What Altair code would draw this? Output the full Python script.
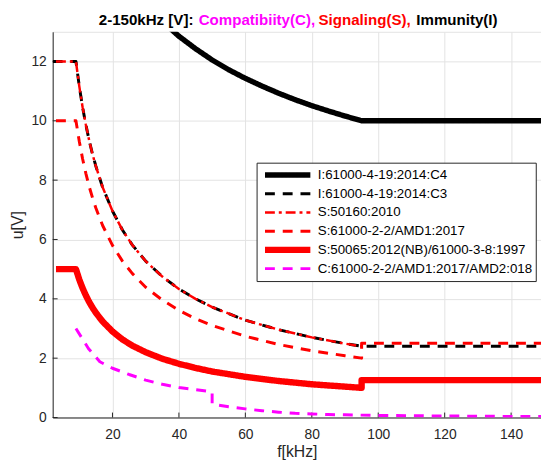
import altair as alt
import pandas as pd

FONT = "Liberation Sans"

# ---------------- data ----------------
SERIES = [
    "I:61000-4-19:2014:C4",
    "I:61000-4-19:2014:C3",
    "S:50160:2010",
    "S:61000-2-2/AMD1:2017",
    "S:50065:2012(NB)/61000-3-8:1997",
    "C:61000-2-2/AMD1:2017/AMD2:018",
]
COLORS = ["#000000", "#000000", "#ff0000", "#ff0000", "#ff0000", "#ff00ff"]
DASHES = [[1, 0], [10, 8], [10, 4, 3, 4], [10, 8], [1, 0], [10, 8]]
WIDTHS = [5.5, 3.0, 2.5, 3.0, 6.5, 3.0]

f_c4 = [35, 40, 45, 50, 55, 60, 65, 70, 75, 80, 85, 90, 95, 150]
u_c4 = [13.35, 12.85, 12.43, 12.05, 11.72, 11.43, 11.17, 10.93, 10.71, 10.51, 10.33, 10.16, 10.0, 10.0]

f_c3 = [2, 9, 10, 11, 12, 13, 14, 15, 17, 20, 23, 26, 30, 35, 40, 45, 50, 60, 70, 80, 90, 95, 150]
u_c3 = [12, 12, 11.17, 10.46, 9.86, 9.33, 8.87, 8.47, 7.77, 6.96, 6.32, 5.81, 5.27, 4.75, 4.33, 4.00,
        3.72, 3.28, 2.96, 2.70, 2.49, 2.40, 2.40]

f_50160 = [3, 9, 10, 11, 12, 13, 14, 15, 17, 20, 23, 26, 30, 35, 40, 45, 50, 60, 70, 80, 90, 95]
u_50160 = [12, 12, 11.17, 10.46, 9.86, 9.33, 8.87, 8.47, 7.77, 6.96, 6.32, 5.81, 5.27, 4.75, 4.33, 4.00,
           3.72, 3.28, 2.96, 2.70, 2.49, 2.40]

f_amd1 = [3, 9, 10, 11, 12, 13, 14, 15, 17, 20, 23, 26, 30, 35, 40, 45, 50, 60, 70, 80, 90, 95, 95, 150]
u_amd1 = [10, 10, 9.31, 8.72, 8.22, 7.78, 7.40, 7.06, 6.48, 5.80, 5.27, 4.85, 4.39, 3.96, 3.61, 3.33,
          3.10, 2.74, 2.46, 2.25, 2.08, 2.00, 2.50, 2.50]

f_50065 = [3, 9, 10, 11, 12, 13, 14, 15, 17, 20, 23, 26, 30, 35, 40, 45, 50, 60, 70, 80, 90, 95, 95, 150]
u_50065 = [5, 5, 4.65, 4.36, 4.11, 3.89, 3.70, 3.53, 3.24, 2.90, 2.63, 2.42, 2.20, 1.98, 1.81, 1.67,
           1.55, 1.37, 1.23, 1.12, 1.04, 1.00, 1.26, 1.26]

f_comp = [9, 12.8, 16.2, 20, 25, 30, 35, 40, 45, 50, 50, 55, 60, 65, 70, 75, 80, 85, 90, 95, 100, 120, 150]
u_comp = [3.0, 2.32, 1.88, 1.66, 1.45, 1.26, 1.12, 1.01, 0.94, 0.87, 0.45, 0.36, 0.29, 0.23, 0.18,
          0.14, 0.12, 0.10, 0.09, 0.08, 0.07, 0.05, 0.03]

X_TICKS = [20, 40, 60, 80, 100, 120, 140]
Y_TICKS = [0, 2, 4, 6, 8, 10, 12]

TITLE_PARTS = ["2-150kHz [V]:", "Compatibiity(C),", "Signaling(S),", "Immunity(I)"]
TITLE_COLORS = ["#000000", "#ff00ff", "#ff0000", "#000000"]
TITLE_X = [46.7, 148.0, 269.5, 368.6]

# ---------------- table ----------------
freqs = [f_c4, f_c3, f_50160, f_amd1, f_50065, f_comp]
volts = [u_c4, u_c3, u_50160, u_amd1, u_50065, u_comp]
rows = []
for name, fs, us in zip(SERIES, freqs, volts):
    for i, (f, u) in enumerate(zip(fs, us)):
        rows.append({"series": name, "f": f, "u": u, "i": i})
df = pd.DataFrame(rows)

W, H = 495, 391
AX = "#262626"
GRID = "#e3e3e3"

x_enc = alt.X("f:Q", scale=alt.Scale(domain=[2, 149], nice=False, zero=False),
              axis=alt.Axis(values=X_TICKS, title="f[kHz]", grid=True, gridColor=GRID,
                            ticks=False, tickSize=0, labelPadding=10, titlePadding=3,
                            domainColor=AX, labelColor=AX, titleColor=AX,
                            labelFont=FONT, titleFont=FONT, labelFontSize=14, titleFontSize=16,
                            titleFontWeight="normal", labelFlush=False))
y_enc = alt.Y("u:Q", scale=alt.Scale(domain=[0, 13], nice=False),
              axis=alt.Axis(values=Y_TICKS, title="u[V]", grid=True, gridColor=GRID,
                            ticks=False, tickSize=0, labelPadding=6.5, titlePadding=6,
                            domainColor=AX, labelColor=AX, titleColor=AX,
                            labelFont=FONT, titleFont=FONT, labelFontSize=14, titleFontSize=16,
                            titleFontWeight="normal"))

base = alt.Chart(df).encode(
    x=x_enc,
    y=y_enc,
    color=alt.Color("series:N", scale=alt.Scale(domain=SERIES, range=COLORS), legend=alt.Legend(title=None)),
    strokeDash=alt.StrokeDash("series:N", scale=alt.Scale(domain=SERIES, range=DASHES), legend=alt.Legend(title=None)),
    strokeWidth=alt.StrokeWidth("series:N", scale=alt.Scale(type="ordinal", domain=SERIES, range=WIDTHS),
                                legend=alt.Legend(title=None)),
    order="i:Q",
)

line_layers = [
    base.transform_filter(alt.datum.series == s).mark_line(clip=True, strokeJoin="round", strokeCap="butt")
    for s in SERIES
]

xt = alt.Chart(pd.DataFrame({"f": X_TICKS})).mark_rule(color=AX, strokeWidth=1).encode(
    x="f:Q", y=alt.value(H), y2=alt.value(H - 5))
yt = alt.Chart(pd.DataFrame({"u": Y_TICKS})).mark_rule(color=AX, strokeWidth=1).encode(
    y="u:Q", x=alt.value(0), x2=alt.value(5))

title_layers = [
    alt.Chart(pd.DataFrame({"t": [t]})).mark_text(
        align="left", baseline="alphabetic", font=FONT, fontSize=15.3, fontWeight="bold", color=c
    ).encode(x=alt.value(px), y=alt.value(-7.3), text="t:N")
    for t, c, px in zip(TITLE_PARTS, TITLE_COLORS, TITLE_X)
]

chart = alt.layer(xt, yt, *line_layers, *title_layers).properties(
    width=W, height=H,
    autosize=alt.AutoSizeParams(type="none"),
    padding={"left": 45.3, "top": 21, "right": 0, "bottom": 42},
    background="white",
).configure_view(stroke=GRID).configure_legend(
    orient="none", legendX=206.7, legendY=132.7,
    strokeColor=AX, fillColor="white", padding=3,
    clipHeight=18.8, rowPadding=0,
    labelFont=FONT, labelFontSize=13.5, labelColor="#000000", labelLimit=400,
    symbolType="stroke", symbolSize=2116, symbolOffset=2, labelOffset=4,
)

chart.save("out.html", embed_options={"renderer": "svg", "actions": False})
